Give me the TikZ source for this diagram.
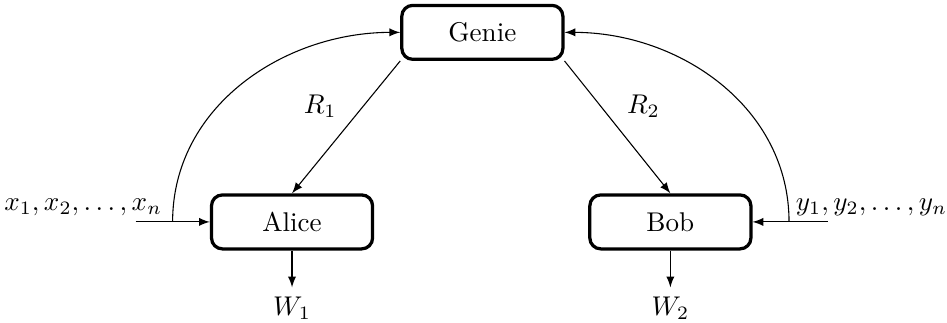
\documentclass[tikz,border=0pt]{standalone}
\usepackage{amsmath,amssymb}
\usepackage{tikz}

\begin{document}
\begin{tikzpicture}[block/.style={draw,very thick,rounded corners,minimum width=2.09cm,minimum height=0.7cm},>=latex]
            \useasboundingbox (0,0) rectangle (12.29,4.19);
            \node[block] (genie) at (6.26,3.77) {Genie};
            \node[block] (alice) at (3.79,1.31) {Alice};
            \node[block] (bob) at (8.70,1.31) {Bob};
            \node (w1) at (3.79,0.19) {$W_1$};
            \node (w2) at (8.70,0.19) {$W_2$};
            \node (xs) at (1.08,1.50) {$x_1, x_2, \ldots, x_n$};
            \node (ys) at (11.31,1.50) {$y_1, y_2, \ldots, y_n$};
            \coordinate (xin) at (1.76,1.31);
            \coordinate (xsplit) at (2.24,1.31);
            \coordinate (yin) at (10.74,1.31);
            \coordinate (ysplit) at (10.24,1.31);
            \draw[->] (xin) -- (alice);
            \draw[->] (yin) -- (bob);
            \draw[->] (xsplit) to[out=90,in=180] (genie);
            \draw[->] (ysplit) to[out=90,in=0] (genie);
            \draw[->] (genie.south west) -- (alice.north) node[pos=0.5,above left] {$R_1$};
            \draw[->] (genie.south east) -- (bob.north) node[pos=0.5,above right] {$R_2$};
            \draw[->] (alice) -- (w1);
            \draw[->] (bob) -- (w2);
        \end{tikzpicture}
\end{document}
